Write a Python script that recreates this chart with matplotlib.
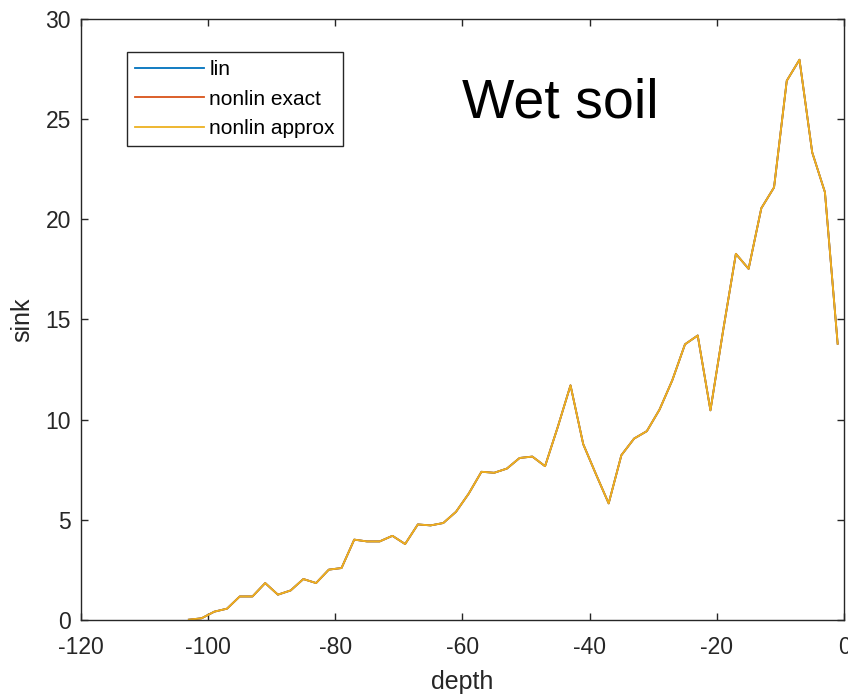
import matplotlib
matplotlib.use("Agg")
import matplotlib.pyplot as plt

# depth grid (odd depths) and sink values
depth = [-103, -101, -99, -97, -95, -93, -91, -89, -87, -85, -83, -81, -79,
         -77, -75, -73, -71, -69, -67, -65, -63, -61, -59, -57, -55, -53,
         -51, -49, -47, -45, -43, -41, -39, -37, -35, -33, -31, -29, -27,
         -25, -23, -21, -19, -17, -15, -13, -11, -9, -7, -5, -3, -1]
sink_lin = [0.0, 0.07, 0.4, 0.55, 1.16, 1.16, 1.83, 1.25, 1.46, 2.03, 1.83,
            2.5, 2.58, 4.0, 3.91, 3.91, 4.19, 3.78, 4.76, 4.71, 4.83, 5.39,
            6.3, 7.39, 7.34, 7.55, 8.08, 8.15, 7.67, 9.63, 11.71, 8.77, 7.27,
            5.81, 8.22, 9.05, 9.42, 10.5, 11.96, 13.76, 14.2, 10.46, 14.46,
            18.28, 17.53, 20.56, 21.6, 26.93, 27.98, 23.35, 21.36, 13.79]
# the three models coincide on this plot
sink_exact = list(sink_lin)
sink_approx = list(sink_lin)

labels = ['lin', 'nonlin exact', 'nonlin approx']
colors = ['#0072BD', '#D95319', '#EDB120']
xticks = [-120, -100, -80, -60, -40, -20, 0]
yticks = [0, 5, 10, 15, 20, 25, 30]

plt.rcParams['font.family'] = ['Liberation Sans', 'DejaVu Sans']
plt.rcParams['axes.unicode_minus'] = False

fig = plt.figure(figsize=(8.48, 6.94), dpi=100)
ax = fig.add_axes([0.0952, 0.1071, 0.9001, 0.8651])

for ys, c, lab in zip([sink_lin, sink_exact, sink_approx], colors, labels):
    ax.plot(depth, ys, color=c, lw=1.3, label=lab)

ax.set_xlim(-120, 0)
ax.set_ylim(0, 30)
ax.set_xticks(xticks)
ax.set_yticks(yticks)

dark = '#262626'
for s in ax.spines.values():
    s.set_color(dark)
    s.set_linewidth(1.0)
ax.tick_params(direction='in', length=5, width=1.0, color=dark,
               labelcolor=dark, labelsize=16.5, top=True, right=True)
ax.tick_params(axis='x', pad=12)
ax.tick_params(axis='y', pad=7)

ax.set_xlabel('depth', fontsize=18, color=dark, labelpad=8)
ax.set_ylabel('sink', fontsize=18, color=dark, labelpad=8)

ax.text(-60, 25.1, 'Wet soil', fontsize=40, ha='left', va='baseline')

leg = ax.legend(loc='upper left', bbox_to_anchor=(0.061, 0.945),
                borderaxespad=0, fontsize=15, handlelength=3.3,
                handletextpad=0.25, borderpad=0.38, labelspacing=0.5,
                fancybox=False, framealpha=1)
leg.get_frame().set_edgecolor('#262626')
leg.get_frame().set_linewidth(1.0)

fig.savefig('out.png', dpi=100)
